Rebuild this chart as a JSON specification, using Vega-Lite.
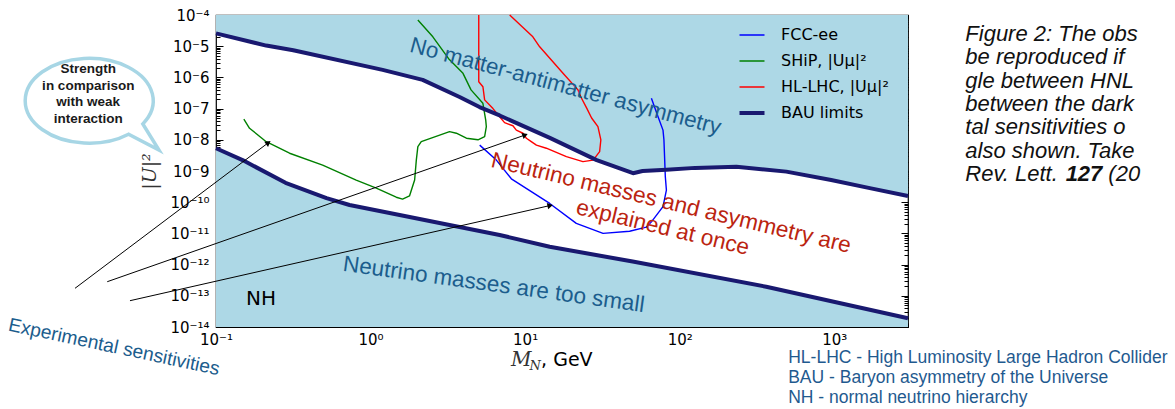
{
  "$schema": "https://vega.github.io/schema/vega-lite/v6.json",
  "width": 692,
  "height": 312,
  "autosize": {"type": "none"},
  "padding": {"left": 216, "top": 15, "right": 267, "bottom": 82},
  "background": "white",
  "config": {
    "view": {"stroke": "black", "strokeWidth": 1.2},
    "axis": {"grid": false, "domain": false, "tickColor": "black", "tickWidth": 1, "labelColor": "black", "labelFont": "DejaVu Sans", "labelFontSize": 15, "labelOverlap": false, "labelFlush": false}
  },
  "resolve": {"axis": {"x": "independent", "y": "independent"}},
  "datasets": {
    "curves": [
      {"s": "FCC-ee", "g": "fcc", "i": 0, "x": 5.082, "y": 6.76e-9},
      {"s": "FCC-ee", "g": "fcc", "i": 1, "x": 6.516, "y": 2.239e-9},
      {"s": "FCC-ee", "g": "fcc", "i": 2, "x": 8.147, "y": 5.62e-10},
      {"s": "FCC-ee", "g": "fcc", "i": 3, "x": 14.42, "y": 9.12e-11},
      {"s": "FCC-ee", "g": "fcc", "i": 4, "x": 21.43, "y": 2.089e-11},
      {"s": "FCC-ee", "g": "fcc", "i": 5, "x": 31.92, "y": 1.0e-11},
      {"s": "FCC-ee", "g": "fcc", "i": 6, "x": 47.42, "y": 1.175e-11},
      {"s": "FCC-ee", "g": "fcc", "i": 7, "x": 60.81, "y": 1.585e-11},
      {"s": "FCC-ee", "g": "fcc", "i": 8, "x": 65.61, "y": 2.344e-11},
      {"s": "FCC-ee", "g": "fcc", "i": 9, "x": 77.98, "y": 7.24e-11},
      {"s": "FCC-ee", "g": "fcc", "i": 10, "x": 82.04, "y": 2.455e-10},
      {"s": "FCC-ee", "g": "fcc", "i": 11, "x": 80.72, "y": 6.61e-10},
      {"s": "FCC-ee", "g": "fcc", "i": 12, "x": 79.98, "y": 2.239e-9},
      {"s": "FCC-ee", "g": "fcc", "i": 13, "x": 79.07, "y": 1.0e-8},
      {"s": "FCC-ee", "g": "fcc", "i": 14, "x": 77.98, "y": 2.042e-8},
      {"s": "FCC-ee", "g": "fcc", "i": 15, "x": 72.44, "y": 5.5e-8},
      {"s": "FCC-ee", "g": "fcc", "i": 16, "x": 65.61, "y": 2.138e-7},

      {"s": "SHiP, |Uμ|²", "g": "ship", "i": 0, "x": 0.1514, "y": 4.57e-8},
      {"s": "SHiP, |Uμ|²", "g": "ship", "i": 1, "x": 0.1648, "y": 2.344e-8},
      {"s": "SHiP, |Uμ|²", "g": "ship", "i": 2, "x": 0.2113, "y": 8.71e-9},
      {"s": "SHiP, |Uμ|²", "g": "ship", "i": 3, "x": 0.2992, "y": 3.715e-9},
      {"s": "SHiP, |Uμ|²", "g": "ship", "i": 4, "x": 0.4898, "y": 1.549e-9},
      {"s": "SHiP, |Uμ|²", "g": "ship", "i": 5, "x": 0.8072, "y": 5.13e-10},
      {"s": "SHiP, |Uμ|²", "g": "ship", "i": 6, "x": 1.089, "y": 2.818e-10},
      {"s": "SHiP, |Uμ|²", "g": "ship", "i": 7, "x": 1.466, "y": 1.445e-10},
      {"s": "SHiP, |Uμ|²", "g": "ship", "i": 8, "x": 1.611, "y": 1.259e-10},
      {"s": "SHiP, |Uμ|²", "g": "ship", "i": 9, "x": 1.786, "y": 1.585e-10},
      {"s": "SHiP, |Uμ|²", "g": "ship", "i": 10, "x": 1.928, "y": 5.13e-10},
      {"s": "SHiP, |Uμ|²", "g": "ship", "i": 11, "x": 1.977, "y": 2.239e-9},
      {"s": "SHiP, |Uμ|²", "g": "ship", "i": 12, "x": 2.023, "y": 6.03e-9},
      {"s": "SHiP, |Uμ|²", "g": "ship", "i": 13, "x": 2.128, "y": 8.71e-9},
      {"s": "SHiP, |Uμ|²", "g": "ship", "i": 14, "x": 2.799, "y": 1.413e-8},
      {"s": "SHiP, |Uμ|²", "g": "ship", "i": 15, "x": 3.243, "y": 1.82e-8},
      {"s": "SHiP, |Uμ|²", "g": "ship", "i": 16, "x": 3.589, "y": 1.622e-8},
      {"s": "SHiP, |Uμ|²", "g": "ship", "i": 17, "x": 4.169, "y": 1.122e-8},
      {"s": "SHiP, |Uμ|²", "g": "ship", "i": 18, "x": 4.955, "y": 1.0e-8},
      {"s": "SHiP, |Uμ|²", "g": "ship", "i": 19, "x": 5.47, "y": 1.259e-8},
      {"s": "SHiP, |Uμ|²", "g": "ship", "i": 20, "x": 5.61, "y": 2.63e-8},
      {"s": "SHiP, |Uμ|²", "g": "ship", "i": 21, "x": 5.56, "y": 4.27e-8},
      {"s": "SHiP, |Uμ|²", "g": "ship", "i": 22, "x": 5.33, "y": 1.479e-7},
      {"s": "SHiP, |Uμ|²", "g": "ship", "i": 23, "x": 4.467, "y": 3.98e-7},
      {"s": "SHiP, |Uμ|²", "g": "ship", "i": 24, "x": 3.963, "y": 1.349e-6},
      {"s": "SHiP, |Uμ|²", "g": "ship", "i": 25, "x": 3.199, "y": 3.98e-6},
      {"s": "SHiP, |Uμ|²", "g": "ship", "i": 26, "x": 2.529, "y": 2.0e-5},
      {"s": "SHiP, |Uμ|²", "g": "ship", "i": 27, "x": 2.023, "y": 6.92e-5},

      {"s": "HL-LHC, |Uμ|²", "g": "lhc", "i": 0, "x": 5.012, "y": 1.0e-4},
      {"s": "HL-LHC, |Uμ|²", "g": "lhc", "i": 1, "x": 5.012, "y": 7.24e-7},
      {"s": "HL-LHC, |Uμ|²", "g": "lhc", "i": 2, "x": 5.333, "y": 5.01e-7},
      {"s": "HL-LHC, |Uμ|²", "g": "lhc", "i": 3, "x": 5.47, "y": 1.905e-7},
      {"s": "HL-LHC, |Uμ|²", "g": "lhc", "i": 4, "x": 6.194, "y": 1.0e-7},
      {"s": "HL-LHC, |Uμ|²", "g": "lhc", "i": 5, "x": 6.84, "y": 5.5e-8},
      {"s": "HL-LHC, |Uμ|²", "g": "lhc", "i": 6, "x": 7.362, "y": 3.548e-8},
      {"s": "HL-LHC, |Uμ|²", "g": "lhc", "i": 7, "x": 8.337, "y": 2.818e-8},
      {"s": "HL-LHC, |Uμ|²", "g": "lhc", "i": 8, "x": 8.77, "y": 2.042e-8},
      {"s": "HL-LHC, |Uμ|²", "g": "lhc", "i": 9, "x": 9.683, "y": 1.622e-8},
      {"s": "HL-LHC, |Uμ|²", "g": "lhc", "i": 10, "x": 10.19, "y": 1.122e-8},
      {"s": "HL-LHC, |Uμ|²", "g": "lhc", "i": 11, "x": 10.96, "y": 8.71e-9},
      {"s": "HL-LHC, |Uμ|²", "g": "lhc", "i": 12, "x": 11.83, "y": 6.76e-9},
      {"s": "HL-LHC, |Uμ|²", "g": "lhc", "i": 13, "x": 13.71, "y": 5.37e-9},
      {"s": "HL-LHC, |Uμ|²", "g": "lhc", "i": 14, "x": 18.49, "y": 2.884e-9},
      {"s": "HL-LHC, |Uμ|²", "g": "lhc", "i": 15, "x": 23.66, "y": 1.995e-9},
      {"s": "HL-LHC, |Uμ|²", "g": "lhc", "i": 16, "x": 27.54, "y": 2.239e-9},
      {"s": "HL-LHC, |Uμ|²", "g": "lhc", "i": 17, "x": 30.34, "y": 4.17e-9},
      {"s": "HL-LHC, |Uμ|²", "g": "lhc", "i": 18, "x": 30.9, "y": 1.0e-8},
      {"s": "HL-LHC, |Uμ|²", "g": "lhc", "i": 19, "x": 29.58, "y": 2.63e-8},
      {"s": "HL-LHC, |Uμ|²", "g": "lhc", "i": 20, "x": 26.92, "y": 5.01e-8},
      {"s": "HL-LHC, |Uμ|²", "g": "lhc", "i": 21, "x": 25.12, "y": 1.0e-7},
      {"s": "HL-LHC, |Uμ|²", "g": "lhc", "i": 22, "x": 22.9, "y": 2.4e-7},
      {"s": "HL-LHC, |Uμ|²", "g": "lhc", "i": 23, "x": 21.98, "y": 3.98e-7},
      {"s": "HL-LHC, |Uμ|²", "g": "lhc", "i": 24, "x": 17.58, "y": 1.349e-6},
      {"s": "HL-LHC, |Uμ|²", "g": "lhc", "i": 25, "x": 12.42, "y": 9.55e-6},
      {"s": "HL-LHC, |Uμ|²", "g": "lhc", "i": 26, "x": 11.22, "y": 2.0e-5},
      {"s": "HL-LHC, |Uμ|²", "g": "lhc", "i": 27, "x": 7.943, "y": 1.0e-4},

      {"s": "BAU limits", "g": "bauU", "i": 0, "x": 0.1, "y": 2.57e-5},
      {"s": "BAU limits", "g": "bauU", "i": 1, "x": 0.2113, "y": 1.047e-5},
      {"s": "BAU limits", "g": "bauU", "i": 2, "x": 0.3162, "y": 7.41e-6},
      {"s": "BAU limits", "g": "bauU", "i": 3, "x": 1.197, "y": 1.738e-6},
      {"s": "BAU limits", "g": "bauU", "i": 4, "x": 2.173, "y": 8.32e-7},
      {"s": "BAU limits", "g": "bauU", "i": 5, "x": 3.767, "y": 2.344e-7},
      {"s": "BAU limits", "g": "bauU", "i": 6, "x": 5.07, "y": 1.122e-7},
      {"s": "BAU limits", "g": "bauU", "i": 7, "x": 6.84, "y": 6.03e-8},
      {"s": "BAU limits", "g": "bauU", "i": 8, "x": 14.45, "y": 1.148e-8},
      {"s": "BAU limits", "g": "bauU", "i": 9, "x": 29.04, "y": 2.239e-9},
      {"s": "BAU limits", "g": "bauU", "i": 10, "x": 49.9, "y": 8.51e-10},
      {"s": "BAU limits", "g": "bauU", "i": 11, "x": 57.5, "y": 1.0e-9},
      {"s": "BAU limits", "g": "bauU", "i": 12, "x": 82.0, "y": 1.096e-9},
      {"s": "BAU limits", "g": "bauU", "i": 13, "x": 125.9, "y": 1.259e-9},
      {"s": "BAU limits", "g": "bauU", "i": 14, "x": 232.8, "y": 1.38e-9},
      {"s": "BAU limits", "g": "bauU", "i": 15, "x": 489.8, "y": 9.55e-10},
      {"s": "BAU limits", "g": "bauU", "i": 16, "x": 955, "y": 5.13e-10},
      {"s": "BAU limits", "g": "bauU", "i": 17, "x": 1698, "y": 2.818e-10},
      {"s": "BAU limits", "g": "bauU", "i": 18, "x": 3000, "y": 1.585e-10},

      {"s": "BAU limits", "g": "bauL", "i": 0, "x": 0.1, "y": 5.37e-9},
      {"s": "BAU limits", "g": "bauL", "i": 1, "x": 0.1486, "y": 2.239e-9},
      {"s": "BAU limits", "g": "bauL", "i": 2, "x": 0.2818, "y": 4.17e-10},
      {"s": "BAU limits", "g": "bauL", "i": 3, "x": 0.5188, "y": 1.349e-10},
      {"s": "BAU limits", "g": "bauL", "i": 4, "x": 0.7311, "y": 8.13e-11},
      {"s": "BAU limits", "g": "bauL", "i": 5, "x": 1.542, "y": 3.89e-11},
      {"s": "BAU limits", "g": "bauL", "i": 6, "x": 3.243, "y": 1.862e-11},
      {"s": "BAU limits", "g": "bauL", "i": 7, "x": 6.84, "y": 8.91e-12},
      {"s": "BAU limits", "g": "bauL", "i": 8, "x": 14.42, "y": 3.715e-12},
      {"s": "BAU limits", "g": "bauL", "i": 9, "x": 49.66, "y": 1.259e-12},
      {"s": "BAU limits", "g": "bauL", "i": 10, "x": 363.1, "y": 1.95e-13},
      {"s": "BAU limits", "g": "bauL", "i": 11, "x": 3000, "y": 1.905e-14}
    ],
    "arrows": [
      {"a": 1, "x1": 0.01224, "y1": 1.738e-13, "x2": 0.2181, "y2": 8.07e-9},
      {"a": 2, "x1": 0.01978, "y1": 2.83e-13, "x2": 10.0, "y2": 1.426e-8},
      {"a": 3, "x1": 0.02776, "y1": 6.97e-14, "x2": 14.52, "y2": 7.83e-11}
    ],
    "notes": [
      {"k": "nm", "t": "No matter-antimatter asymmetry", "x": 18.28, "y": 5.15e-7},
      {"k": "na", "t": "Neutrino masses and asymmetry are", "x": 88.1, "y": 9.42e-11},
      {"k": "na", "t": "explained at once", "x": 77.6, "y": 1.545e-11},
      {"k": "ns", "t": "Neutrino masses are too small", "x": 6.27, "y": 2.3e-13},
      {"k": "nh", "t": "NH", "x": 0.1954, "y": 7.89e-14},
      {"k": "bubble", "t": "", "x": 0.01511, "y": 1.778e-7},
      {"k": "bub", "t": "Strength", "x": 0.01491, "y": 1.82e-6},
      {"k": "bub", "t": "in comparison", "x": 0.01491, "y": 5.42e-7},
      {"k": "bub", "t": "with weak", "x": 0.01491, "y": 1.592e-7},
      {"k": "bub", "t": "interaction", "x": 0.01491, "y": 4.64e-8},
      {"k": "exp", "t": "Experimental sensitivities", "x": 0.02188, "y": 2.286e-15},
      {"k": "cap", "t": "Figure 2: The obs", "x": 7047, "y": 2.462e-5},
      {"k": "cap", "t": "be reproduced if", "x": 7047, "y": 4.406e-6},
      {"k": "cap", "t": "gle between HNL", "x": 7047, "y": 7.887e-7},
      {"k": "cap", "t": "between the dark", "x": 7047, "y": 1.403e-7},
      {"k": "cap", "t": "tal sensitivities o", "x": 7047, "y": 2.518e-8},
      {"k": "cap", "t": "also shown. Take", "x": 7047, "y": 4.508e-9},
      {"k": "cap", "t": "Rev. Lett.", "x": 7047, "y": 8.02e-10},
      {"k": "capb", "t": "127", "x": 31400, "y": 8.02e-10},
      {"k": "cap", "t": "(20", "x": 59350, "y": 8.02e-10},
      {"k": "abbr", "t": "HL-LHC - High Luminosity Large Hadron Collider", "x": 503.5, "y": 1.014e-15},
      {"k": "abbr", "t": "BAU - Baryon asymmetry of the Universe", "x": 503.5, "y": 2.317e-16},
      {"k": "abbr", "t": "NH - normal neutrino hierarchy", "x": 503.5, "y": 5.3e-17},
      {"k": "xm", "t": "M", "x": 9.42, "y": 8.75e-16},
      {"k": "xn", "t": "N", "x": 11.61, "y": 5.62e-16},
      {"k": "xg", "t": ",  GeV", "x": 12.69, "y": 8.75e-16}
    ]
  },
  "layer": [
    {
      "data": {"name": "curves"},
      "transform": [{"filter": "datum.g === 'bauU'"}],
      "mark": {"type": "area", "color": "#add8e6", "opacity": 1},
      "encoding": {
        "x": {"field": "x", "type": "quantitative", "scale": {"type": "log", "domain": [0.1, 3000], "nice": false},
          "axis": {"orient": "bottom", "title": null, "labelPadding": 12,
            "values": [0.1,0.2,0.3,0.4,0.5,0.6,0.7,0.8,0.9,1,2,3,4,5,6,7,8,9,10,20,30,40,50,60,70,80,90,100,200,300,400,500,600,700,800,900,1000,2000,3000],
            "tickSize": {"condition": {"test": "abs(log(datum.value)/LN10 - round(log(datum.value)/LN10)) < 0.01", "value": -7}, "value": -4},
            "labelExpr": "abs(log(datum.value)/LN10 - round(log(datum.value)/LN10)) < 0.01 ? '10' + replace(replace(replace(replace(replace(replace('' + round(log(datum.value)/LN10), regexp('-','g'), '⁻'), regexp('0','g'), '⁰'), regexp('1','g'), '¹'), regexp('2','g'), '²'), regexp('3','g'), '³'), regexp('4','g'), '⁴') : ''"}},
        "y": {"field": "y", "type": "quantitative", "scale": {"type": "log", "domain": [1e-14, 1e-4], "nice": false},
          "axis": {"orient": "left", "title": "|U|²", "titleFont": "DejaVu Serif", "titleFontStyle": "italic", "titleFontWeight": "normal", "titleFontSize": 19, "titleColor": "#333333", "titlePadding": 10, "labelPadding": 14,
            "values": [1e-14,2e-14,3e-14,4e-14,5e-14,6e-14,7e-14,8e-14,9e-14,1e-13,2e-13,3e-13,4e-13,5e-13,6e-13,7e-13,8e-13,9e-13,1e-12,2e-12,3e-12,4e-12,5e-12,6e-12,7e-12,8e-12,9e-12,1e-11,2e-11,3e-11,4e-11,5e-11,6e-11,7e-11,8e-11,9e-11,1e-10,2e-10,3e-10,4e-10,5e-10,6e-10,7e-10,8e-10,9e-10,1e-9,2e-9,3e-9,4e-9,5e-9,6e-9,7e-9,8e-9,9e-9,1e-8,2e-8,3e-8,4e-8,5e-8,6e-8,7e-8,8e-8,9e-8,1e-7,2e-7,3e-7,4e-7,5e-7,6e-7,7e-7,8e-7,9e-7,1e-6,2e-6,3e-6,4e-6,5e-6,6e-6,7e-6,8e-6,9e-6,1e-5,2e-5,3e-5,4e-5,5e-5,6e-5,7e-5,8e-5,9e-5,1e-4],
            "tickSize": {"condition": {"test": "abs(log(datum.value)/LN10 - round(log(datum.value)/LN10)) < 0.01", "value": -7}, "value": -4},
            "labelExpr": "abs(log(datum.value)/LN10 - round(log(datum.value)/LN10)) < 0.01 ? '10' + replace(replace(replace(replace(replace(replace('' + round(log(datum.value)/LN10), regexp('-','g'), '⁻'), regexp('0','g'), '⁰'), regexp('1','g'), '¹'), regexp('2','g'), '²'), regexp('3','g'), '³'), regexp('4','g'), '⁴') : ''"}},
        "y2": {"datum": 1e-4}
      }
    },
    {
      "data": {"name": "curves"},
      "transform": [{"filter": "datum.g === 'bauL'"}],
      "mark": {"type": "area", "color": "#add8e6", "opacity": 1},
      "encoding": {
        "x": {"field": "x", "type": "quantitative", "scale": {"type": "log", "domain": [0.1, 3000], "nice": false},
          "axis": {"orient": "top", "title": null, "labels": false,
            "values": [0.1,0.2,0.3,0.4,0.5,0.6,0.7,0.8,0.9,1,2,3,4,5,6,7,8,9,10,20,30,40,50,60,70,80,90,100,200,300,400,500,600,700,800,900,1000,2000,3000],
            "tickSize": {"condition": {"test": "abs(log(datum.value)/LN10 - round(log(datum.value)/LN10)) < 0.01", "value": -7}, "value": -4}}},
        "y": {"field": "y", "type": "quantitative", "scale": {"type": "log", "domain": [1e-14, 1e-4], "nice": false},
          "axis": {"orient": "right", "title": null, "labels": false,
            "values": [1e-14,2e-14,3e-14,4e-14,5e-14,6e-14,7e-14,8e-14,9e-14,1e-13,2e-13,3e-13,4e-13,5e-13,6e-13,7e-13,8e-13,9e-13,1e-12,2e-12,3e-12,4e-12,5e-12,6e-12,7e-12,8e-12,9e-12,1e-11,2e-11,3e-11,4e-11,5e-11,6e-11,7e-11,8e-11,9e-11,1e-10,2e-10,3e-10,4e-10,5e-10,6e-10,7e-10,8e-10,9e-10,1e-9,2e-9,3e-9,4e-9,5e-9,6e-9,7e-9,8e-9,9e-9,1e-8,2e-8,3e-8,4e-8,5e-8,6e-8,7e-8,8e-8,9e-8,1e-7,2e-7,3e-7,4e-7,5e-7,6e-7,7e-7,8e-7,9e-7,1e-6,2e-6,3e-6,4e-6,5e-6,6e-6,7e-6,8e-6,9e-6,1e-5,2e-5,3e-5,4e-5,5e-5,6e-5,7e-5,8e-5,9e-5,1e-4],
            "tickSize": {"condition": {"test": "abs(log(datum.value)/LN10 - round(log(datum.value)/LN10)) < 0.01", "value": -7}, "value": -4}}},
        "y2": {"datum": 1e-14}
      }
    },
    {
      "data": {"name": "curves"},
      "transform": [{"filter": "datum.s !== 'BAU limits'"}],
      "mark": {"type": "line", "strokeJoin": "round", "strokeWidth": 1.4},
      "encoding": {
        "x": {"field": "x", "type": "quantitative", "scale": {"type": "log", "domain": [0.1, 3000], "nice": false}, "axis": null},
        "y": {"field": "y", "type": "quantitative", "scale": {"type": "log", "domain": [1e-14, 1e-4], "nice": false}, "axis": null},
        "color": {"field": "s", "type": "nominal",
          "scale": {"domain": ["FCC-ee", "SHiP, |Uμ|²", "HL-LHC, |Uμ|²", "BAU limits"], "range": ["#0000ff", "#008000", "#ff0000", "#191970"]},
          "legend": {"orient": "none", "legendX": 528, "legendY": 12, "title": null, "padding": 0, "labelFont": "DejaVu Sans", "labelFontSize": 16, "labelColor": "black", "symbolSize": 625, "symbolType": "stroke", "labelOffset": 21, "rowPadding": 10,
            "symbolStrokeWidth": {"expr": "datum.value === 'BAU limits' ? 4 : 1.5"}}},
        "detail": {"field": "g"},
        "order": {"field": "i", "type": "quantitative"}
      }
    },
    {
      "data": {"name": "curves"},
      "transform": [{"filter": "datum.s === 'BAU limits'"}],
      "mark": {"type": "line", "strokeJoin": "round", "strokeWidth": 4},
      "encoding": {
        "x": {"field": "x", "type": "quantitative", "scale": {"type": "log", "domain": [0.1, 3000], "nice": false}, "axis": null},
        "y": {"field": "y", "type": "quantitative", "scale": {"type": "log", "domain": [1e-14, 1e-4], "nice": false}, "axis": null},
        "color": {"field": "s", "type": "nominal",
          "scale": {"domain": ["FCC-ee", "SHiP, |Uμ|²", "HL-LHC, |Uμ|²", "BAU limits"], "range": ["#0000ff", "#008000", "#ff0000", "#191970"]},
          "legend": {"orient": "none", "legendX": 528, "legendY": 12, "title": null, "padding": 0, "labelFont": "DejaVu Sans", "labelFontSize": 16, "labelColor": "black", "symbolSize": 625, "symbolType": "stroke", "labelOffset": 21, "rowPadding": 10,
            "symbolStrokeWidth": {"expr": "datum.value === 'BAU limits' ? 4 : 1.5"}}},
        "detail": {"field": "g"},
        "order": {"field": "i", "type": "quantitative"}
      }
    },
    {
      "data": {"name": "arrows"},
      "mark": {"type": "rule", "color": "black", "strokeWidth": 1},
      "encoding": {
        "x": {"field": "x1", "type": "quantitative", "scale": {"type": "log", "domain": [0.1, 3000], "nice": false}, "axis": null},
        "y": {"field": "y1", "type": "quantitative", "scale": {"type": "log", "domain": [1e-14, 1e-4], "nice": false}, "axis": null},
        "x2": {"field": "x2"},
        "y2": {"field": "y2"}
      }
    },
    {
      "data": {"name": "arrows"},
      "transform": [{"filter": "datum.a === 1"}],
      "mark": {"type": "point", "shape": "triangle-up", "filled": true, "color": "black", "size": 40, "angle": 53, "opacity": 1},
      "encoding": {
        "x": {"field": "x2", "type": "quantitative", "scale": {"type": "log", "domain": [0.1, 3000], "nice": false}, "axis": null},
        "y": {"field": "y2", "type": "quantitative", "scale": {"type": "log", "domain": [1e-14, 1e-4], "nice": false}, "axis": null}
      }
    },
    {
      "data": {"name": "arrows"},
      "transform": [{"filter": "datum.a === 2"}],
      "mark": {"type": "point", "shape": "triangle-up", "filled": true, "color": "black", "size": 40, "angle": 70.6, "opacity": 1},
      "encoding": {
        "x": {"field": "x2", "type": "quantitative", "scale": {"type": "log", "domain": [0.1, 3000], "nice": false}, "axis": null},
        "y": {"field": "y2", "type": "quantitative", "scale": {"type": "log", "domain": [1e-14, 1e-4], "nice": false}, "axis": null}
      }
    },
    {
      "data": {"name": "arrows"},
      "transform": [{"filter": "datum.a === 3"}],
      "mark": {"type": "point", "shape": "triangle-up", "filled": true, "color": "black", "size": 40, "angle": 77.2, "opacity": 1},
      "encoding": {
        "x": {"field": "x2", "type": "quantitative", "scale": {"type": "log", "domain": [0.1, 3000], "nice": false}, "axis": null},
        "y": {"field": "y2", "type": "quantitative", "scale": {"type": "log", "domain": [1e-14, 1e-4], "nice": false}, "axis": null}
      }
    },
    {
      "data": {"name": "notes"},
      "transform": [{"filter": "datum.k === 'bubble'"}],
      "mark": {"type": "point", "shape": "M0.671,0.289A0.8,0.531,0,1,0,0.4925,0.418L0.8725,0.615Z", "filled": false, "stroke": "#a7d6e5", "strokeWidth": 3.5, "size": 25600, "opacity": 1},
      "encoding": {
        "x": {"field": "x", "type": "quantitative", "scale": {"type": "log", "domain": [0.1, 3000], "nice": false}, "axis": null},
        "y": {"field": "y", "type": "quantitative", "scale": {"type": "log", "domain": [1e-14, 1e-4], "nice": false}, "axis": null}
      }
    },
    {
      "data": {"name": "notes"},
      "transform": [{"filter": "datum.k === 'nm'"}],
      "mark": {"type": "text", "font": "Liberation Sans", "fontSize": 22.4, "color": "#1b5d8d", "angle": 15, "align": "center", "baseline": "middle"},
      "encoding": {
        "x": {"field": "x", "type": "quantitative", "scale": {"type": "log", "domain": [0.1, 3000], "nice": false}, "axis": null},
        "y": {"field": "y", "type": "quantitative", "scale": {"type": "log", "domain": [1e-14, 1e-4], "nice": false}, "axis": null},
        "text": {"field": "t"}
      }
    },
    {
      "data": {"name": "notes"},
      "transform": [{"filter": "datum.k === 'na'"}],
      "mark": {"type": "text", "font": "Liberation Sans", "fontSize": 22.6, "color": "#bb2410", "angle": 13.5, "align": "center", "baseline": "middle"},
      "encoding": {
        "x": {"field": "x", "type": "quantitative", "scale": {"type": "log", "domain": [0.1, 3000], "nice": false}, "axis": null},
        "y": {"field": "y", "type": "quantitative", "scale": {"type": "log", "domain": [1e-14, 1e-4], "nice": false}, "axis": null},
        "text": {"field": "t"}
      }
    },
    {
      "data": {"name": "notes"},
      "transform": [{"filter": "datum.k === 'ns'"}],
      "mark": {"type": "text", "font": "Liberation Sans", "fontSize": 22.5, "color": "#1b5d8d", "angle": 7.8, "align": "center", "baseline": "middle"},
      "encoding": {
        "x": {"field": "x", "type": "quantitative", "scale": {"type": "log", "domain": [0.1, 3000], "nice": false}, "axis": null},
        "y": {"field": "y", "type": "quantitative", "scale": {"type": "log", "domain": [1e-14, 1e-4], "nice": false}, "axis": null},
        "text": {"field": "t"}
      }
    },
    {
      "data": {"name": "notes"},
      "transform": [{"filter": "datum.k === 'nh'"}],
      "mark": {"type": "text", "font": "DejaVu Sans", "fontSize": 20, "color": "black", "align": "center", "baseline": "middle"},
      "encoding": {
        "x": {"field": "x", "type": "quantitative", "scale": {"type": "log", "domain": [0.1, 3000], "nice": false}, "axis": null},
        "y": {"field": "y", "type": "quantitative", "scale": {"type": "log", "domain": [1e-14, 1e-4], "nice": false}, "axis": null},
        "text": {"field": "t"}
      }
    },
    {
      "data": {"name": "notes"},
      "transform": [{"filter": "datum.k === 'bub'"}],
      "mark": {"type": "text", "font": "Liberation Sans", "fontSize": 13.5, "fontWeight": "bold", "color": "#1a1a1a", "align": "center", "baseline": "middle"},
      "encoding": {
        "x": {"field": "x", "type": "quantitative", "scale": {"type": "log", "domain": [0.1, 3000], "nice": false}, "axis": null},
        "y": {"field": "y", "type": "quantitative", "scale": {"type": "log", "domain": [1e-14, 1e-4], "nice": false}, "axis": null},
        "text": {"field": "t"}
      }
    },
    {
      "data": {"name": "notes"},
      "transform": [{"filter": "datum.k === 'exp'"}],
      "mark": {"type": "text", "font": "Liberation Sans", "fontSize": 19.2, "color": "#1b5d8d", "angle": 12, "align": "center", "baseline": "middle"},
      "encoding": {
        "x": {"field": "x", "type": "quantitative", "scale": {"type": "log", "domain": [0.1, 3000], "nice": false}, "axis": null},
        "y": {"field": "y", "type": "quantitative", "scale": {"type": "log", "domain": [1e-14, 1e-4], "nice": false}, "axis": null},
        "text": {"field": "t"}
      }
    },
    {
      "data": {"name": "notes"},
      "transform": [{"filter": "datum.k === 'cap'"}],
      "mark": {"type": "text", "font": "Liberation Sans", "fontSize": 22, "fontStyle": "italic", "color": "#111111", "align": "left", "baseline": "middle"},
      "encoding": {
        "x": {"field": "x", "type": "quantitative", "scale": {"type": "log", "domain": [0.1, 3000], "nice": false}, "axis": null},
        "y": {"field": "y", "type": "quantitative", "scale": {"type": "log", "domain": [1e-14, 1e-4], "nice": false}, "axis": null},
        "text": {"field": "t"}
      }
    },
    {
      "data": {"name": "notes"},
      "transform": [{"filter": "datum.k === 'capb'"}],
      "mark": {"type": "text", "font": "Liberation Sans", "fontSize": 22, "fontStyle": "italic", "fontWeight": "bold", "color": "#111111", "align": "left", "baseline": "middle"},
      "encoding": {
        "x": {"field": "x", "type": "quantitative", "scale": {"type": "log", "domain": [0.1, 3000], "nice": false}, "axis": null},
        "y": {"field": "y", "type": "quantitative", "scale": {"type": "log", "domain": [1e-14, 1e-4], "nice": false}, "axis": null},
        "text": {"field": "t"}
      }
    },
    {
      "data": {"name": "notes"},
      "transform": [{"filter": "datum.k === 'abbr'"}],
      "mark": {"type": "text", "font": "Liberation Sans", "fontSize": 17.5, "color": "#1f5a8f", "align": "left", "baseline": "middle"},
      "encoding": {
        "x": {"field": "x", "type": "quantitative", "scale": {"type": "log", "domain": [0.1, 3000], "nice": false}, "axis": null},
        "y": {"field": "y", "type": "quantitative", "scale": {"type": "log", "domain": [1e-14, 1e-4], "nice": false}, "axis": null},
        "text": {"field": "t"}
      }
    },
    {
      "data": {"name": "notes"},
      "transform": [{"filter": "datum.k === 'xm'"}],
      "mark": {"type": "text", "font": "DejaVu Serif", "fontSize": 20, "fontStyle": "italic", "color": "#333333", "align": "center", "baseline": "middle"},
      "encoding": {
        "x": {"field": "x", "type": "quantitative", "scale": {"type": "log", "domain": [0.1, 3000], "nice": false}, "axis": null},
        "y": {"field": "y", "type": "quantitative", "scale": {"type": "log", "domain": [1e-14, 1e-4], "nice": false}, "axis": null},
        "text": {"field": "t"}
      }
    },
    {
      "data": {"name": "notes"},
      "transform": [{"filter": "datum.k === 'xn'"}],
      "mark": {"type": "text", "font": "DejaVu Serif", "fontSize": 13, "fontStyle": "italic", "color": "#333333", "align": "center", "baseline": "middle"},
      "encoding": {
        "x": {"field": "x", "type": "quantitative", "scale": {"type": "log", "domain": [0.1, 3000], "nice": false}, "axis": null},
        "y": {"field": "y", "type": "quantitative", "scale": {"type": "log", "domain": [1e-14, 1e-4], "nice": false}, "axis": null},
        "text": {"field": "t"}
      }
    },
    {
      "data": {"name": "notes"},
      "transform": [{"filter": "datum.k === 'xg'"}],
      "mark": {"type": "text", "font": "DejaVu Sans", "fontSize": 19, "color": "black", "align": "left", "baseline": "middle"},
      "encoding": {
        "x": {"field": "x", "type": "quantitative", "scale": {"type": "log", "domain": [0.1, 3000], "nice": false}, "axis": null},
        "y": {"field": "y", "type": "quantitative", "scale": {"type": "log", "domain": [1e-14, 1e-4], "nice": false}, "axis": null},
        "text": {"field": "t"}
      }
    }
  ]
}
